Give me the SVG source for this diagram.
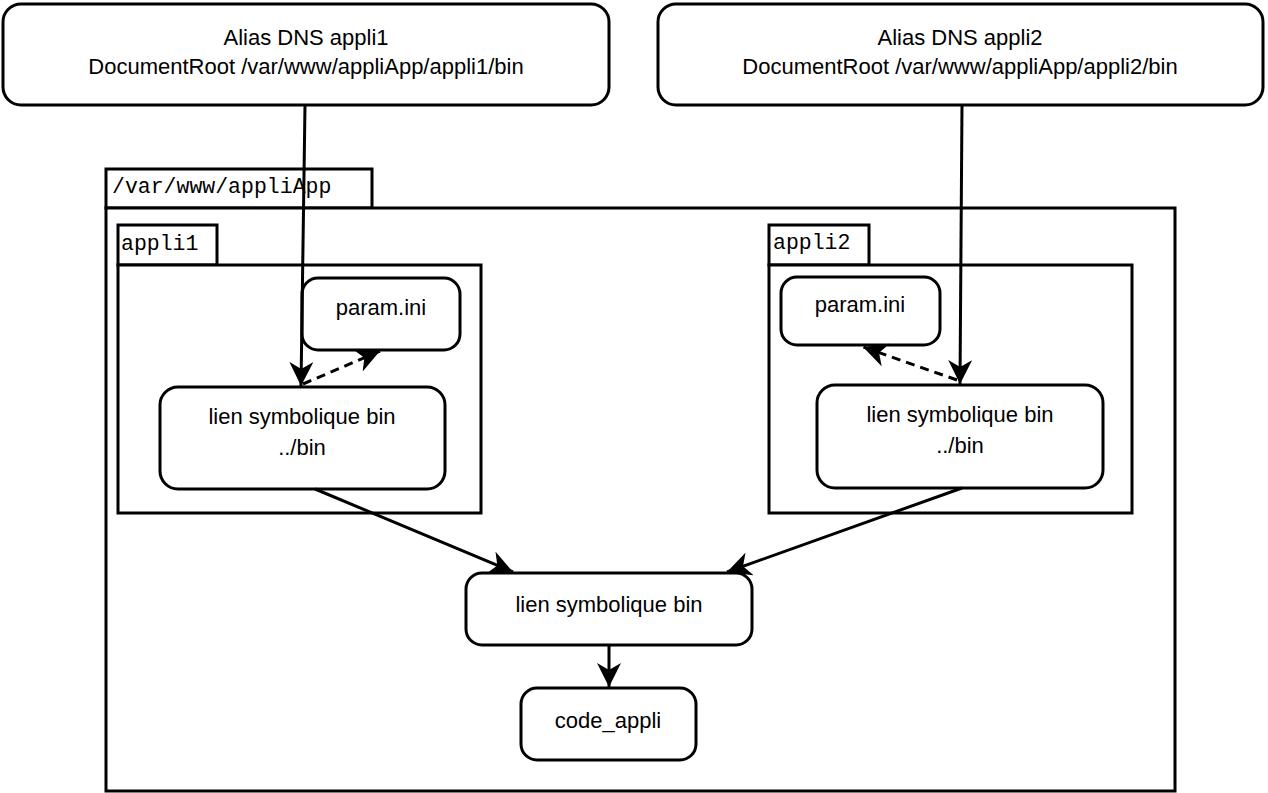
<svg xmlns="http://www.w3.org/2000/svg" width="1268" height="793" viewBox="0 0 1268 793">
<defs>
<style>
.box{fill:#fff;stroke:#000;stroke-width:3}
.pkg{fill:#fff;stroke:#000;stroke-width:3}
.t{font-family:"Liberation Sans",Arial,sans-serif;font-size:22px;text-anchor:middle;fill:#000}
.m{font-family:"Liberation Mono","Courier New",monospace;font-size:21.5px;fill:#000}
.c{fill:none;stroke:#000;stroke-width:3}
.d{stroke-dasharray:9,6}
</style>
<marker id="ah" markerUnits="userSpaceOnUse" markerWidth="26" markerHeight="24" refX="24" refY="12" orient="auto">
<path d="M0,0 L24,12 L0,24 L7,12 Z" fill="#000"/>
</marker>
</defs>
<g id="pkg-root">
<rect class="pkg" x="106" y="169" width="266" height="39"/>
<rect class="pkg" x="106" y="208" width="1069" height="583"/>
<text class="m" x="112" y="193">/var/www/appliApp</text>
</g>
<g id="pkg-appli1">
<rect class="pkg" x="118" y="225" width="99" height="40"/>
<rect class="pkg" x="118" y="265" width="363" height="248"/>
<text class="m" x="121" y="250">appli1</text>
</g>
<g id="pkg-appli2">
<rect class="pkg" x="769" y="225" width="100" height="40"/>
<rect class="pkg" x="769" y="265" width="363" height="248"/>
<text class="m" x="773" y="249">appli2</text>
</g>
<g id="dns1">
<rect class="box" x="3" y="4" width="606" height="101" rx="18"/>
<text class="t" x="306" y="45">Alias DNS appli1</text>
<text class="t" x="306" y="74">DocumentRoot /var/www/appliApp/appli1/bin</text>
</g>
<g id="dns2">
<rect class="box" x="658" y="4" width="605" height="101" rx="18"/>
<text class="t" x="960" y="45">Alias DNS appli2</text>
<text class="t" x="960" y="74">DocumentRoot /var/www/appliApp/appli2/bin</text>
</g>
<g id="param1">
<rect class="box" x="302" y="278" width="158" height="72" rx="16"/>
<text class="t" x="381" y="315">param.ini</text>
</g>
<g id="lien1">
<rect class="box" x="160" y="387" width="285" height="102" rx="18"/>
<text class="t" x="302" y="424">lien symbolique bin</text>
<text class="t" x="302" y="455">../bin</text>
</g>
<g id="param2">
<rect class="box" x="781" y="277" width="159" height="68" rx="16"/>
<text class="t" x="860" y="312">param.ini</text>
</g>
<g id="lien2">
<rect class="box" x="817" y="385" width="286" height="103" rx="18"/>
<text class="t" x="960" y="422">lien symbolique bin</text>
<text class="t" x="960" y="453">../bin</text>
</g>
<g id="lien-central">
<rect class="box" x="466" y="573" width="286" height="72" rx="16"/>
<text class="t" x="609" y="612">lien symbolique bin</text>
</g>
<g id="code-appli">
<rect class="box" x="521" y="688" width="175" height="72" rx="16"/>
<text class="t" x="608" y="728">code_appli</text>
</g>
<g id="connectors">
<path class="c" d="M305,105 L301,386" marker-end="url(#ah)"/>
<path class="c" d="M962,105 L960,384" marker-end="url(#ah)"/>
<path class="c d" d="M303,384 L380,351" marker-end="url(#ah)"/>
<path class="c d" d="M957,380 L863,347" marker-end="url(#ah)"/>
<path class="c" d="M315,489 L513,572" marker-end="url(#ah)"/>
<path class="c" d="M962,488 L727,572" marker-end="url(#ah)"/>
<path class="c" d="M609,645 L609,687" marker-end="url(#ah)"/>
</g>
</svg>
